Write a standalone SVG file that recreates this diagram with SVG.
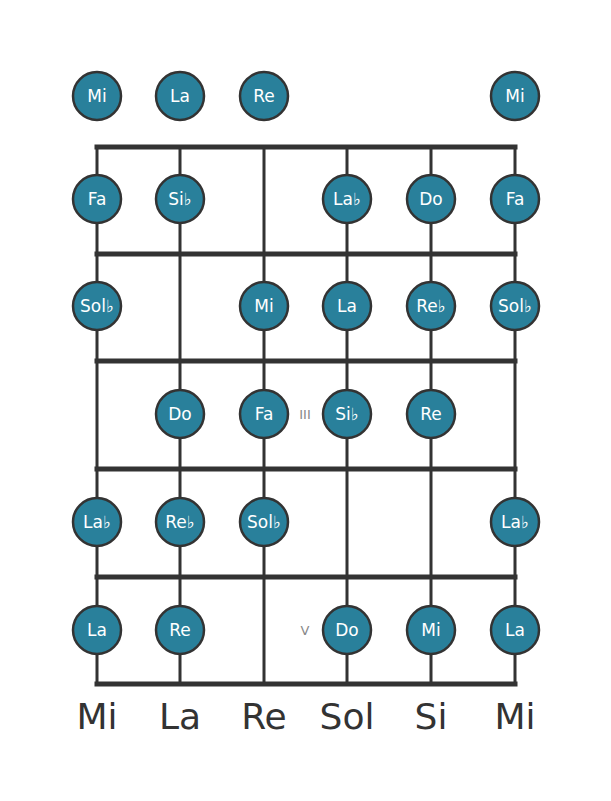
<svg xmlns="http://www.w3.org/2000/svg" width="611" height="801" viewBox="0 0 611 801">
<style>
.fret{stroke:#333;stroke-width:5;stroke-linecap:square}
.str{stroke:#333;stroke-width:3}
.n circle{fill:#29809b;stroke:#333;stroke-width:2.5}
.n text{fill:#fff;font-family:"DejaVu Sans",sans-serif;font-size:17px;text-anchor:middle;dominant-baseline:central}
.fl{fill:#888;font-family:"DejaVu Sans",sans-serif;font-size:13px;text-anchor:middle;dominant-baseline:central}
.sl{fill:#333;font-family:"DejaVu Sans",sans-serif;font-size:36px;text-anchor:middle}
</style>
<rect width="611" height="801" fill="#fff"/>
<g id="connectors">
<line class="str" x1="97" y1="147" x2="97" y2="684"/>
<line class="str" x1="180" y1="147" x2="180" y2="684"/>
<line class="str" x1="264" y1="147" x2="264" y2="684"/>
<line class="str" x1="347" y1="147" x2="347" y2="684"/>
<line class="str" x1="431" y1="147" x2="431" y2="684"/>
<line class="str" x1="515" y1="147" x2="515" y2="684"/>
<line class="fret" x1="97" y1="147" x2="515" y2="147"/>
<line class="fret" x1="97" y1="254" x2="515" y2="254"/>
<line class="fret" x1="97" y1="361" x2="515" y2="361"/>
<line class="fret" x1="97" y1="469" x2="515" y2="469"/>
<line class="fret" x1="97" y1="577" x2="515" y2="577"/>
<line class="fret" x1="97" y1="684" x2="515" y2="684"/>
</g>
<text class="fl" x="305" y="414">III</text>
<text class="fl" x="305" y="630">V</text>
<g id="n0-1" class="n"><circle cx="97" cy="96" r="24"/><text x="97" y="96">Mi</text></g>
<g id="n0-2" class="n"><circle cx="180" cy="96" r="24"/><text x="180" y="96">La</text></g>
<g id="n0-3" class="n"><circle cx="264" cy="96" r="24"/><text x="264" y="96">Re</text></g>
<g id="n0-6" class="n"><circle cx="515" cy="96" r="24"/><text x="515" y="96">Mi</text></g>
<g id="n1-1" class="n"><circle cx="97" cy="199" r="24"/><text x="97" y="199">Fa</text></g>
<g id="n1-2" class="n"><circle cx="180" cy="199" r="24"/><text x="180" y="199">Si♭</text></g>
<g id="n1-4" class="n"><circle cx="347" cy="199" r="24"/><text x="347" y="199">La♭</text></g>
<g id="n1-5" class="n"><circle cx="431" cy="199" r="24"/><text x="431" y="199">Do</text></g>
<g id="n1-6" class="n"><circle cx="515" cy="199" r="24"/><text x="515" y="199">Fa</text></g>
<g id="n2-1" class="n"><circle cx="97" cy="306" r="24"/><text x="97" y="306">Sol♭</text></g>
<g id="n2-3" class="n"><circle cx="264" cy="306" r="24"/><text x="264" y="306">Mi</text></g>
<g id="n2-4" class="n"><circle cx="347" cy="306" r="24"/><text x="347" y="306">La</text></g>
<g id="n2-5" class="n"><circle cx="431" cy="306" r="24"/><text x="431" y="306">Re♭</text></g>
<g id="n2-6" class="n"><circle cx="515" cy="306" r="24"/><text x="515" y="306">Sol♭</text></g>
<g id="n3-2" class="n"><circle cx="180" cy="414" r="24"/><text x="180" y="414">Do</text></g>
<g id="n3-3" class="n"><circle cx="264" cy="414" r="24"/><text x="264" y="414">Fa</text></g>
<g id="n3-4" class="n"><circle cx="347" cy="414" r="24"/><text x="347" y="414">Si♭</text></g>
<g id="n3-5" class="n"><circle cx="431" cy="414" r="24"/><text x="431" y="414">Re</text></g>
<g id="n4-1" class="n"><circle cx="97" cy="522" r="24"/><text x="97" y="522">La♭</text></g>
<g id="n4-2" class="n"><circle cx="180" cy="522" r="24"/><text x="180" y="522">Re♭</text></g>
<g id="n4-3" class="n"><circle cx="264" cy="522" r="24"/><text x="264" y="522">Sol♭</text></g>
<g id="n4-6" class="n"><circle cx="515" cy="522" r="24"/><text x="515" y="522">La♭</text></g>
<g id="n5-1" class="n"><circle cx="97" cy="630" r="24"/><text x="97" y="630">La</text></g>
<g id="n5-2" class="n"><circle cx="180" cy="630" r="24"/><text x="180" y="630">Re</text></g>
<g id="n5-4" class="n"><circle cx="347" cy="630" r="24"/><text x="347" y="630">Do</text></g>
<g id="n5-5" class="n"><circle cx="431" cy="630" r="24"/><text x="431" y="630">Mi</text></g>
<g id="n5-6" class="n"><circle cx="515" cy="630" r="24"/><text x="515" y="630">La</text></g>
<g id="labels">
<text class="sl" x="97" y="729">Mi</text>
<text class="sl" x="180" y="729">La</text>
<text class="sl" x="264" y="729">Re</text>
<text class="sl" x="347" y="729">Sol</text>
<text class="sl" x="431" y="729">Si</text>
<text class="sl" x="515" y="729">Mi</text>
</g>
</svg>
